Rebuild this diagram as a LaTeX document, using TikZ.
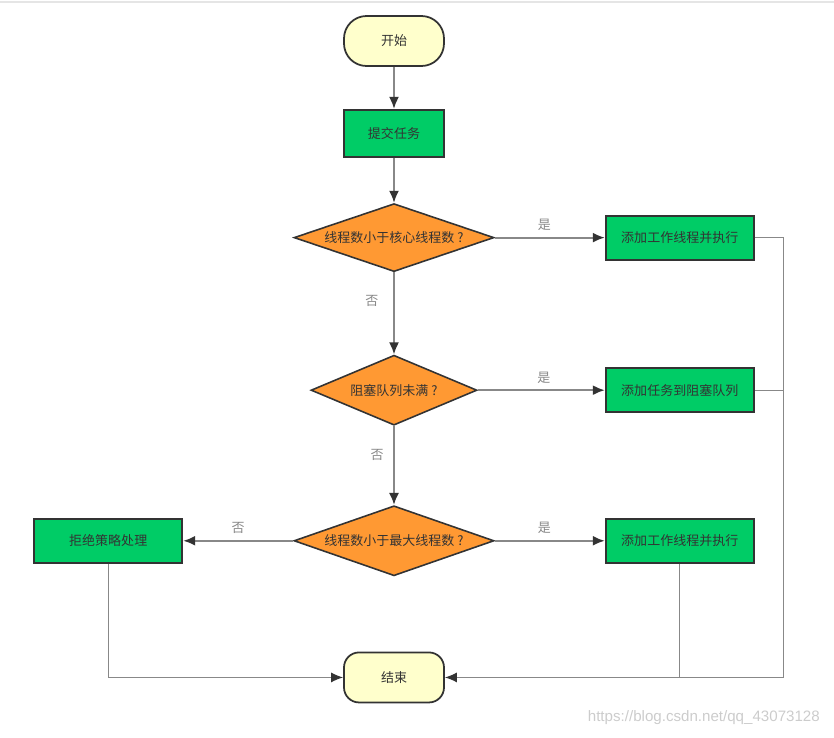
\documentclass[tikz,border=0pt]{standalone}
\usepackage{fontspec}
\setmainfont{Noto Sans CJK SC}
\newfontfamily\markfont{Liberation Sans}
\usepackage{tikz}
\usetikzlibrary{positioning,shapes.geometric,arrows.meta,calc}
\usepackage{xcolor}
\definecolor{termfill}{HTML}{FFFFCC}
\definecolor{procfill}{HTML}{00CC66}
\definecolor{decfill}{HTML}{FF9933}
\definecolor{edgedark}{HTML}{333333}
\definecolor{linegray}{HTML}{888888}

\begin{document}
\begin{tikzpicture}[
    font=\fontsize{7.4}{9}\selectfont,
    text=edgedark,
    terminal/.style={
        draw=edgedark,
        rectangle,
        line width=1pt,
        minimum width=2cm,
        minimum height=1cm,
        inner sep=0pt,
        fill=termfill
    },
    process/.style={
        draw=edgedark,
        rectangle,
        line width=1.1pt,
        minimum width=2.96cm,
        minimum height=0.88cm,
        inner sep=0pt,
        fill=procfill
    },
    decision/.style={
        draw=edgedark,
        diamond,
        aspect=2.8,
        line width=0.9pt,
        minimum width=4cm,
        minimum height=1.4cm,
        inner sep=0pt,
        fill=decfill
    },
    arrow/.style={
        -{Latex[length=0.24cm,width=0.2cm,color=edgedark]},
        line width=1.1pt,
        linegray
    },
    thinline/.style={
        line width=0.6pt,
        linegray
    },
    thinarrow/.style={
        -{Latex[length=0.24cm,width=0.2cm,color=edgedark]},
        line width=0.6pt,
        linegray
    },
    node distance=1cm
]
    \useasboundingbox (0,0) rectangle (16.68,-14.74);
    \draw[gray!20, line width=0.6pt] (0,-0.04) -- (16.68,-0.04);

    % Start and submit
    \node[terminal, rounded corners=0.45cm] (start) at (7.88,-0.82) {开始};
    \node[process, minimum width=2cm, minimum height=0.94cm] (submit) [below=0.84cm of start] {提交任务};

    % Decisions down the middle
    \node[decision, minimum height=1.36cm] (chkcore) [below=0.90cm of submit] {线程数小于核心线程数 ?};
    \node[decision, minimum width=3.32cm, aspect=2.37] (chkqueue) [below=1.64cm of chkcore] {阻塞队列未满 ?};
    \node[decision] (chkmax) [below=1.58cm of chkqueue] {线程数小于最大线程数 ?};

    % End
    \node[terminal, rounded corners=0.3cm] (end) [below=1.50cm of chkmax] {结束};

    % Actions on the right
    \node[process] (addcore) [right=2.20cm of chkcore] {添加工作线程并执行};
    \node[process] (queue) at (addcore |- chkqueue) {添加任务到阻塞队列};
    \node[process] (addmax) [right=2.20cm of chkmax] {添加工作线程并执行};

    % Reject on the left
    \node[process] (reject) [left=2.20cm of chkmax] {拒绝策略处理};

    % Main flow
    \draw[arrow] (start) -- (submit);
    \draw[arrow] (submit) -- (chkcore);
    \draw[arrow] (chkcore.east) -- node[above=0pt, pos=0.45] {是} (addcore.west);
    \draw[arrow] (chkcore.south) -- node[left=5pt, pos=0.35] {否} (chkqueue.north);
    \draw[arrow] (chkqueue.east) -- node[above=0pt, pos=0.52] {是} (queue.west);
    \draw[arrow] (chkqueue.south) -- node[left=2pt, pos=0.37] {否} (chkmax.north);
    \draw[arrow] (chkmax.east) -- node[above=0pt, pos=0.45] {是} (addmax.west);
    \draw[arrow] (chkmax.west) -- node[above=0pt] {否} (reject.east);

    % Return lines to the end
    \coordinate (rail) at ($(addcore.east)+(0.58,0)$);
    \draw[thinarrow] (addcore.east) -- (addcore.east -| rail) |- (end.east);
    \draw[thinline] (queue.east) -- (queue.east -| rail);
    \draw[thinline] (addmax.south) -- (addmax.south |- end.east);
    \draw[thinarrow] (reject.south) |- (end.west);

    % Watermark
    \node[anchor=east, text=gray!40, font=\markfont\fontsize{8.6}{10}\selectfont] (mark) at (16.52,-14.36) {https://blog.csdn.net/qq\_43073128};
\end{tikzpicture}
\end{document}
